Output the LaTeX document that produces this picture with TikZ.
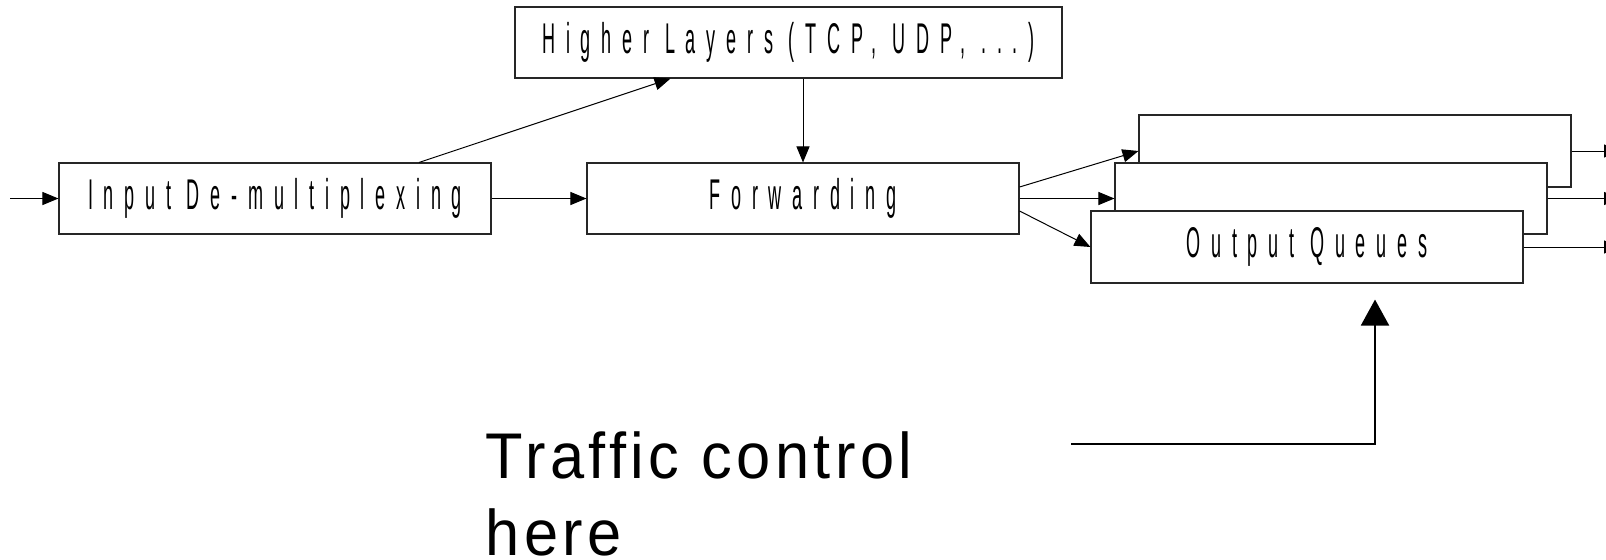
\documentclass[tikz,border=0pt]{standalone}
\usepackage{fontspec}
\usetikzlibrary{arrows.meta,calc}
\newfontfamily\boxfont[FakeStretch=0.42,LetterSpace=25]{Liberation Sans}
\newfontfamily\notefont[FakeStretch=0.95,LetterSpace=7]{Liberation Sans}
\begin{document}
\begin{tikzpicture}[x=0.5pt,y=-0.5pt,
  stage/.style={draw=black!85,line width=0.55pt,fill=white,rectangle,inner sep=0pt,
    minimum width=216pt,minimum height=35.5pt,font=\boxfont\fontsize{21.5}{26}\selectfont},
  flow/.style={draw=black,line width=0.5pt,-{Triangle[length=8pt,width=6.5pt]}},
  bigflow/.style={draw=black,line width=1pt,-{Triangle[length=13pt,width=14pt]}}]
\clip (0,0) rectangle (1606,559);

% processing stages
\node[stage] (in) at (275,198.5) {Input De-multiplexing};
\node[stage] (fwd) at (803,198.5) {Forwarding};
\node[stage,minimum width=273.5pt] (hl) at (788.5,42.5) {Higher Layers (TCP, UDP, ...)};

% stacked output queues, back to front
\node[stage,minimum height=36pt] (q3) at (1355,151) {};
\node[stage] (q2) at (1331,198.5) {};
\node[stage,minimum height=36pt] (q1) at (1307,247) {Output Queues};

% connectors
\coordinate (src) at (10,198.5);
\draw[flow] (src) -- (in.west);
\draw[flow] (in) -- (fwd);
\draw[flow] ([xshift=72pt]in.north) -- ([xshift=-59pt]hl.south);
\draw[flow] (hl.south -| fwd.north) -- (fwd.north);
\draw[flow] ([yshift=5.75pt]fwd.east) -- (q3.west);
\draw[flow] (fwd.east) -- (q2.west);
\draw[flow] ([yshift=-6.25pt]fwd.east) -- (q1.west);

% outgoing links
\coordinate (o3) at (1620,151);
\coordinate (o2) at (1620,198.5);
\coordinate (o1) at (1620,247);
\draw[flow] (q3.east) -- (o3);
\draw[flow] (q2.east) -- (o2);
\draw[flow] (q1.east) -- (o1);

% annotation (base anchor sits on the last line)
\node[anchor=base west,align=left,inner sep=0pt,
  font=\notefont\fontsize{32.3}{38.5}\selectfont] (tc) at (485,555) {Traffic control\\here};
\coordinate (tcstart) at (1071,444);
\draw[bigflow,shorten >=8pt] (tcstart) -| ([xshift=34pt]q1.south);
\end{tikzpicture}
\end{document}
